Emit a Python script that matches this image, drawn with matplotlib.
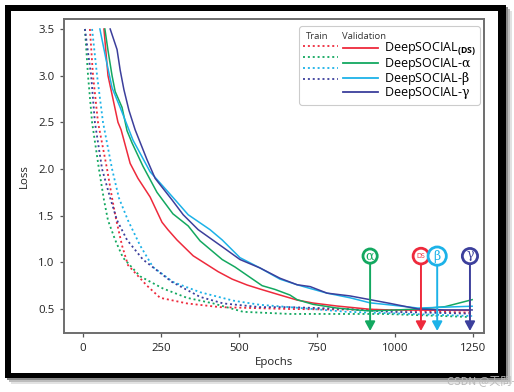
import matplotlib
matplotlib.use("Agg")
import matplotlib.pyplot as plt
from matplotlib.lines import Line2D
from matplotlib.patches import Rectangle

plt.rcParams['font.family'] = ['Open Sans', 'DejaVu Sans']
plt.rcParams['mathtext.fontset'] = 'custom'
plt.rcParams['mathtext.rm'] = 'DejaVu Serif'
plt.rcParams['mathtext.it'] = 'DejaVu Serif'
plt.rcParams['mathtext.bf'] = 'Open Sans:bold'

RED, GREEN, SKY, NAVY = '#ee2a3c', '#13a860', '#1cb2e8', '#3c3f9c'

val_ds_x = [67, 80, 112, 122, 151, 176, 215, 253, 272, 301, 353, 433, 478, 526, 567, 631, 686, 737, 814, 920, 984, 1240]
val_ds_y = [3.5, 3.0, 2.5, 2.42, 2.06, 1.90, 1.70, 1.43, 1.35, 1.24, 1.07, 0.90, 0.82, 0.757, 0.714, 0.65, 0.596, 0.564, 0.532, 0.497, 0.49, 0.485]
val_a_x = [70, 80, 93, 103, 125, 141, 157, 192, 237, 288, 337, 375, 446, 487, 574, 615, 663, 686, 737, 814, 878, 920, 984, 1074, 1160, 1247]
val_a_y = [3.5, 3.27, 3.0, 2.83, 2.66, 2.41, 2.28, 2.03, 1.75, 1.52, 1.39, 1.23, 1.03, 0.95, 0.75, 0.71, 0.65, 0.60, 0.55, 0.51, 0.49, 0.48, 0.487, 0.50, 0.525, 0.60]
val_b_x = [54, 74, 93, 119, 160, 215, 295, 337, 407, 446, 503, 567, 631, 686, 728, 782, 856, 920, 984, 1074, 1160, 1247]
val_b_y = [3.5, 3.17, 2.87, 2.66, 2.31, 1.97, 1.67, 1.51, 1.35, 1.24, 1.05, 0.94, 0.82, 0.76, 0.72, 0.67, 0.62, 0.566, 0.544, 0.51, 0.52, 0.53]
val_g_x = [87, 109, 119, 131, 147, 167, 205, 231, 285, 321, 369, 449, 503, 567, 631, 686, 728, 782, 856, 920, 984, 1074, 1160, 1247]
val_g_y = [3.5, 3.28, 3.06, 2.85, 2.63, 2.42, 2.1, 1.9, 1.67, 1.51, 1.35, 1.16, 1.03, 0.94, 0.83, 0.76, 0.74, 0.67, 0.64, 0.6, 0.56, 0.5, 0.49, 0.49]

tr_ds_x = [22, 32, 48, 77, 93, 106, 125, 144, 205, 247, 333, 439, 663, 968, 1247]
tr_ds_y = [3.5, 3.0, 2.5, 2.0, 1.69, 1.46, 1.18, 0.97, 0.75, 0.62, 0.56, 0.52, 0.5, 0.49, 0.46]
tr_a_x = [6, 16, 29, 51, 67, 80, 103, 128, 183, 256, 333, 417, 513, 663, 968, 1234]
tr_a_y = [3.5, 3.0, 2.5, 2.0, 1.67, 1.45, 1.24, 1.05, 0.85, 0.72, 0.62, 0.56, 0.47, 0.447, 0.447, 0.415]
tr_b_x = [29, 45, 64, 93, 115, 144, 183, 224, 288, 375, 481, 567, 663, 846, 984, 1247]
tr_b_y = [3.5, 3.0, 2.5, 2.0, 1.69, 1.45, 1.18, 0.95, 0.79, 0.68, 0.59, 0.545, 0.52, 0.47, 0.455, 0.425]
tr_g_x = [6, 26, 38, 61, 87, 109, 141, 192, 285, 375, 449, 567, 663, 846, 984, 1247]
tr_g_y = [3.5, 3.0, 2.5, 2.0, 1.69, 1.45, 1.24, 1.03, 0.79, 0.63, 0.56, 0.52, 0.52, 0.5, 0.47, 0.45]

names = ['DeepSOCIAL$_{\\mathbf{(DS)}}$', 'DeepSOCIAL-$\\alpha$', 'DeepSOCIAL-$\\beta$', 'DeepSOCIAL-$\\gamma$']
marker_labels = ['$\\alpha$', 'DS', '$\\beta$', '$\\gamma$']
marker_epochs = [920, 1083, 1135, 1240]
marker_colors = [GREEN, RED, SKY, NAVY]
x_ticks = [0, 250, 500, 750, 1000, 1250]
y_ticks = [0.5, 1.0, 1.5, 2.0, 2.5, 3.0, 3.5]

W, H = 514, 392
fig = plt.figure(figsize=(W / 100, H / 100), dpi=100, facecolor='white')


def frame(x0, y0, x1, y1, **kw):
    fig.add_artist(Rectangle((x0 / W, 1 - y1 / H), (x1 - x0) / W, (y1 - y0) / H,
                             transform=fig.transFigure, **kw))


for off, c in [(6, '#e2e2e2'), (4, '#bdbdbd'), (2, '#8a8a8a')]:
    frame(5 + off, 5 + off, 506 + off, 378 + off, facecolor=c, edgecolor='none', zorder=-5)
frame(5, 5, 506, 378, facecolor='black', edgecolor='none', zorder=-4)
frame(11, 11, 498, 373, facecolor='white', edgecolor='none', zorder=-3)

ax = fig.add_axes([64 / W, 1 - 333 / H, (484 - 64) / W, (333 - 19) / H])
ax.patch.set_alpha(0)

train_style = dict(ls=(0, (1.1, 1.6)), lw=1.3)
for x, y, c in [(tr_ds_x, tr_ds_y, RED), (tr_a_x, tr_a_y, GREEN), (tr_b_x, tr_b_y, SKY), (tr_g_x, tr_g_y, NAVY)]:
    ax.plot(x, y, color=c, **train_style)
for x, y, c in [(val_ds_x, val_ds_y, RED), (val_a_x, val_a_y, GREEN), (val_b_x, val_b_y, SKY), (val_g_x, val_g_y, NAVY)]:
    ax.plot(x, y, color=c, lw=1.1)

ax.set_xlim(-61, 1285)
ax.set_ylim(0.243, 3.607)
ax.set_xticks(x_ticks)
ax.set_yticks(y_ticks)
ax.tick_params(labelsize=8.2, colors='#555555', labelcolor='#222222', length=3, width=0.9, pad=4)
for s in ax.spines.values():
    s.set_color('#6e6e6e')
    s.set_linewidth(1.4)
ax.set_xlabel('Epochs', fontsize=8.2, color='#222222', labelpad=2)
ax.set_ylabel('Loss', fontsize=8.2, color='#222222', labelpad=6)

for lab, ex, c in zip(marker_labels, marker_epochs, marker_colors):
    ax.annotate('', xy=(ex, 0.265), xytext=(ex, 1.07),
                arrowprops=dict(arrowstyle='-|>,head_width=0.3,head_length=0.55', color=c, lw=1.4, shrinkA=0, shrinkB=0))
    is_ds = lab == 'DS'
    ax.text(ex, 1.067, lab, ha='center', va='center', color=c, fontsize=5 if is_ds else 9, zorder=6,
            bbox=dict(boxstyle='circle,pad=0.05' if not is_ds else 'circle,pad=0.5', fc='white', ec=c, lw=2.0))

blank = Line2D([], [], alpha=0)
handles = [blank] + [Line2D([], [], color=c, **train_style) for c in (RED, GREEN, SKY, NAVY)]
handles += [blank] + [Line2D([], [], color=c, lw=1.3) for c in (RED, GREEN, SKY, NAVY)]
labels = [''] * 5 + [' '] + names
leg = ax.legend(handles, labels, ncols=2, loc='upper right', bbox_to_anchor=(480 / 420 - 64 / 420, 1 - 7 / 314),
                borderaxespad=0, fontsize=9, handlelength=2.85, handletextpad=0.45, columnspacing=-0.1,
                labelspacing=-0.17, borderpad=0.3, frameon=True, edgecolor='#cccccc', framealpha=1)
leg.get_frame().set_linewidth(0.8)
ax.text((317 - 64) / 420, 1 - (36 - 19) / 314, 'Train', transform=ax.transAxes, ha='center', va='center', fontsize=6.8, color='#333333', zorder=7)
ax.text((363.5 - 64) / 420, 1 - (36 - 19) / 314, 'Validation', transform=ax.transAxes, ha='center', va='center', fontsize=6.8, color='#333333', zorder=7)

fig.text(447 / W, 1 - 381 / H, 'CSDN @天問-', ha='left', va='center', fontsize=8, color='#b8b8b8',
         family=['Noto Sans CJK SC', 'DejaVu Sans'], zorder=10)

fig.savefig('out.png', dpi=100)
